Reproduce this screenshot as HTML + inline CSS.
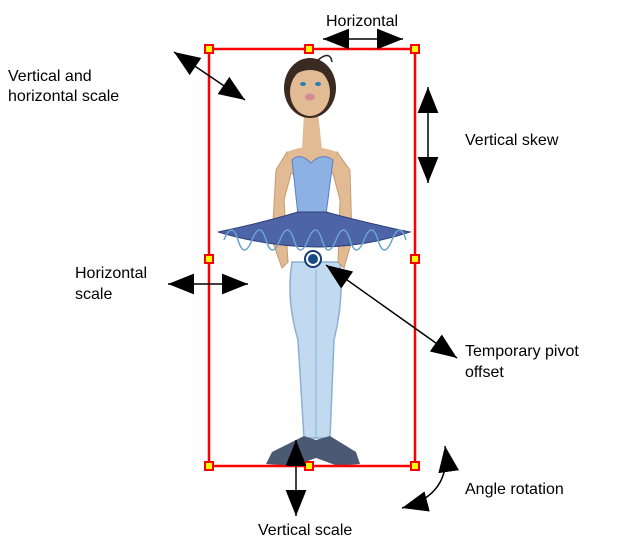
<!DOCTYPE html>
<html><head><meta charset="utf-8"><style>
html,body{margin:0;padding:0;background:#fff;}
svg{display:block}
text{font-family:"Liberation Sans",Arial,sans-serif;font-size:16px;fill:#000}
</style></head><body>
<svg width="642" height="549" viewBox="0 0 642 549" xmlns="http://www.w3.org/2000/svg">
<defs>
<marker id="b" viewBox="0 0 20 16" refX="20" refY="8" markerWidth="26" markerHeight="21" markerUnits="userSpaceOnUse" orient="auto-start-reverse">
<path d="M0,0 L20,8 L0,16 z" fill="#000"/></marker>
</defs>
<g>
<!-- legs -->
<path d="M292,262 L340,262 Q344,300 334,340 L330,438 L304,438 L298,340 Q286,300 292,262 Z" fill="#c2daf0" stroke="#8ab0d4" stroke-width="1.5"/>
<line x1="316" y1="270" x2="316" y2="438" stroke="#8ab0d4"/>
<!-- shoes -->
<path d="M304,436 L316,440 L330,436 L356,452 L360,464 L338,466 L316,458 L294,466 L266,464 L272,452 Z" fill="#4b5a72"/>
<!-- arms -->
<path d="M287,152 L276,170 L272,240 L282,268 L288,262 L284,200 L292,170 Z" fill="#e2bb95" stroke="#c69a70"/>
<path d="M337,152 L350,170 L352,240 L344,268 L338,262 L340,200 L332,170 Z" fill="#e2bb95" stroke="#c69a70"/>
<!-- neck -->
<path d="M304,112 L318,112 L322,150 L302,150 Z" fill="#e2bb95"/>
<path d="M287,152 Q310,142 337,152 L332,175 L292,175 Z" fill="#e2bb95"/>
<!-- bodice -->
<path d="M292,160 Q300,152 311,163 Q322,152 333,160 L326,215 L312,226 L298,215 Z" fill="#8eb1e4" stroke="#5b7fc4"/>
<!-- tutu -->
<path d="M218,232 Q265,222 298,212 L326,212 Q362,222 410,232 Q320,262 218,232 Z" fill="#4d64a6" stroke="#2c3f7a"/>
<path d="M224,240 q8,-20 14,0 q6,20 14,0 q8,-20 14,0 q6,20 14,0 q8,-20 14,0 q6,20 14,0 q8,-20 14,0 q6,20 14,0 q8,-20 14,0 q6,20 14,0 q8,-20 14,0 q6,20 14,0 q8,-20 14,0" fill="none" stroke="#6aa3d0" stroke-width="1.5"/>
<!-- head -->
<ellipse cx="310" cy="88" rx="26" ry="30" fill="#3a2a22"/>
<ellipse cx="310" cy="92" rx="20" ry="24" fill="#e2bb95"/>
<path d="M290,78 Q310,62 330,78 L330,70 Q310,56 290,70 Z" fill="#3a2a22"/>
<path d="M318,60 Q330,50 332,62" fill="none" stroke="#222" stroke-width="1.5"/>
<ellipse cx="303" cy="84" rx="3" ry="2" fill="#2a7fb0"/>
<ellipse cx="318" cy="84" rx="3" ry="2" fill="#2a7fb0"/>
<ellipse cx="310" cy="97" rx="5" ry="3.5" fill="#d48a92"/>
<!-- pivot -->
<circle cx="313" cy="259" r="8" fill="#fff" stroke="#1a3a70" stroke-width="2"/>
<circle cx="313" cy="259" r="5" fill="#1a4a8a"/>
</g>
<rect x="209" y="49" width="206" height="417" fill="none" stroke="#ff0000" stroke-width="2.5"/>
<g fill="#ffff00" stroke="#ff0000" stroke-width="2">
<rect x="205" y="45" width="8" height="8"/><rect x="305" y="45" width="8" height="8"/><rect x="411" y="45" width="8" height="8"/>
<rect x="205" y="255" width="8" height="8"/><rect x="411" y="255" width="8" height="8"/>
<rect x="205" y="462" width="8" height="8"/><rect x="305" y="462" width="8" height="8"/><rect x="411" y="462" width="8" height="8"/>
</g>
<g stroke="#000" stroke-width="1.5" fill="none">
<line x1="323" y1="39" x2="403" y2="39" marker-start="url(#b)" marker-end="url(#b)"/>
<line x1="174" y1="52" x2="245" y2="100" marker-start="url(#b)" marker-end="url(#b)"/>
<line x1="428" y1="87" x2="428" y2="183" marker-start="url(#b)" marker-end="url(#b)"/>
<line x1="168" y1="284" x2="248" y2="284" marker-start="url(#b)" marker-end="url(#b)"/>
<line x1="326" y1="265" x2="457" y2="358" marker-start="url(#b)" marker-end="url(#b)"/>
<line x1="296" y1="440" x2="296" y2="516" marker-start="url(#b)" marker-end="url(#b)"/>
<path d="M445,446 Q452,495 402,508" marker-start="url(#b)" marker-end="url(#b)"/>
</g>
<text x="326" y="26">Horizontal</text>
<text x="8" y="81">Vertical and</text>
<text x="8" y="101">horizontal scale</text>
<text x="465" y="145">Vertical skew</text>
<text x="75" y="278">Horizontal</text>
<text x="75" y="299">scale</text>
<text x="465" y="356">Temporary pivot</text>
<text x="465" y="377">offset</text>
<text x="465" y="494">Angle rotation</text>
<text x="258" y="535">Vertical scale</text>
</svg>
</body></html>
